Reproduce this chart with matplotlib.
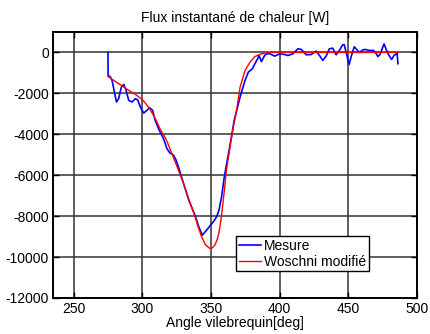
import numpy as np
import matplotlib
matplotlib.use("Agg")
import matplotlib.pyplot as plt

plt.rcParams["font.family"] = ["Liberation Sans", "DejaVu Sans"]
plt.rcParams["axes.unicode_minus"] = False

# Mesure (blue)
mes_x = [275, 275.1, 276.8, 278, 279, 279.9, 281.2, 282.8, 283.8, 284.8, 286.5, 288.2, 290.1,
         292.5, 294.9, 296.6, 298.6, 301, 303.4, 305.3, 307.5, 309.4, 311.8, 313, 315.4, 317.9,
         320, 322.7, 324.5, 326.3, 330, 334, 338.4, 341, 343.7, 345.3, 346.9, 349.5, 351.7,
         354.1, 355.8, 357.7, 359.7, 361.4, 363.2, 366.9, 371.2, 374.8, 377.2, 380.1, 382,
         384, 385, 386.7, 389, 390.5, 392.8, 396.4, 400, 403.6, 406, 409.6, 413.3, 415.7,
         419.3, 422.9, 426.6, 429, 431.4, 433.8, 436.2, 438.6, 441.1, 443.5, 445.9, 447,
         448.8, 450.5, 452.3, 454.3, 456, 457.9, 460, 462, 465.2, 468.3, 470, 471.5, 473,
         476, 477.5, 479.6, 481.5, 483.2, 484.7, 485.5, 486.1]
mes_y = [0, -1120, -1200, -1370, -1700, -2010, -2420, -2260, -1950, -1690, -1560, -1850, -2340,
         -2420, -2260, -2310, -2670, -2960, -2830, -2700, -2830, -3320, -3720, -3890, -4200,
         -4700, -4900, -5020, -5250, -5590, -6400, -7250, -7950, -8500, -8930, -8800, -8680,
         -8450, -8280, -8030, -7710, -7060, -6080, -5430, -4780, -3320, -2180, -1370, -960,
         -800, -550, -300, -150, -450, -150, -70, -65, -180, -65, -100, -150, -65, 180, 150,
         -115, -100, 65, -150, -390, -180, 180, 210, -115, 100, 375, 380, -100, -600, -150,
         280, 150, 0, 100, 150, 100, 100, -30, -200, -100, 420, 150, -150, -340, -150, -80,
         -30, -550]

# Woschni modifie (red)
wos_x = [275, 280, 285, 290, 295, 300, 305, 310, 313, 317, 321, 326, 330, 334, 338.4, 341,
         343.2, 346, 349.2, 351, 352.8, 354.5, 355.7, 357.6, 359.5, 361.2, 363.5, 366, 368.6,
         371.2, 374.8, 378.4, 382, 386, 390, 395, 486]
wos_y = [-1170, -1400, -1620, -1850, -2050, -2300, -2700, -3300, -3750, -4200, -4850, -5700,
         -6400, -7200, -8030, -8600, -9010, -9400, -9580, -9550, -9420, -9150, -8850, -8030,
         -6890, -5760, -4780, -3750, -2830, -1690, -880, -470, -200, -80, -20, 0, 0]

fig = plt.figure(figsize=(4.30, 3.34), dpi=100)
ax = fig.add_axes([0.1233, 0.1078, 0.8465, 0.7964])

ax.plot(mes_x, mes_y, color="blue", lw=1.2, label="Mesure")
ax.plot(wos_x, wos_y, color="red", lw=1.0, label="Woschni modifié")

ax.set_xlim(235, 500)
ax.set_ylim(-12000, 1000)
ax.set_xticks([250, 300, 350, 400, 450, 500])
ax.set_yticks(np.arange(-12000, 1, 2000))
ax.grid(True, color="0.2", lw=1.1)
ax.set_axisbelow(True)
ax.tick_params(direction="in", top=True, right=True, labelsize=10, length=4, width=1, pad=3)
for s in ax.spines.values():
    s.set_linewidth(1.4)

ax.set_title("Flux instantané de chaleur [W]", fontsize=10, pad=7)
ax.set_xlabel("Angle vilebrequin[deg]", fontsize=10, labelpad=0)

leg = ax.legend(loc="lower left", bbox_to_anchor=(0.503, 0.1), fontsize=10, fancybox=False,
                framealpha=1, edgecolor="black", handlelength=1.6, handletextpad=0.2,
                borderpad=0.2, labelspacing=0.1, borderaxespad=0)
leg.get_frame().set_linewidth(1.0)

fig.savefig("out.png", dpi=100)
